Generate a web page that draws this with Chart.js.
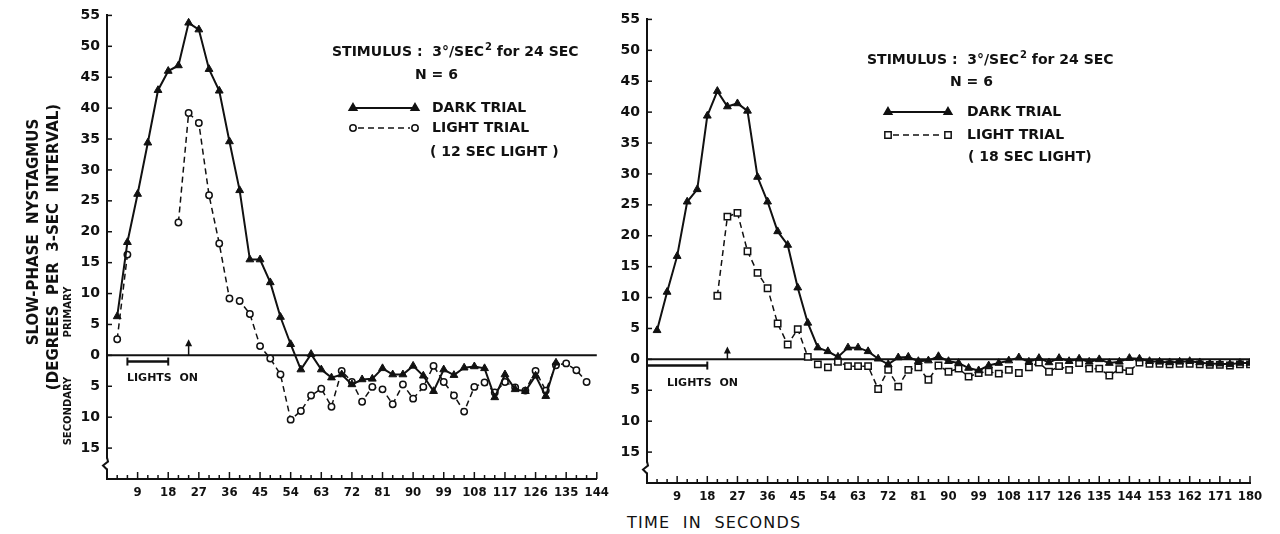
<!DOCTYPE html>
<html>
<head>
<meta charset="utf-8">
<script src="https://cdn.jsdelivr.net/npm/chart.js@4.4.1/dist/chart.umd.min.js"></script>
<style>
  body { margin: 0; background: #fff; width: 1280px; height: 534px; overflow: hidden; position: relative; }
  #left { position: absolute; left: 0; top: 0; }
  #right { position: absolute; left: 615px; top: 4px; }
  #xtitle { position: absolute; left: 627px; top: 513px; font: 16px "DejaVu Sans", sans-serif; letter-spacing: 1.2px; color: #111; white-space: pre; }
</style>
</head>
<body>
<canvas id="left" width="615" height="505"></canvas>
<canvas id="right" width="665" height="505"></canvas>
<div id="xtitle">TIME  IN  SECONDS</div>
<script>
/* ------------------------------- Data ------------------------------- */
// time (s) of each 3-sec interval
const leftTimes = [3, 6, 9, 12, 15, 18, 21, 24, 27, 30, 33, 36, 39, 42, 45, 48, 51, 54, 57, 60,
  63, 66, 69, 72, 75, 78, 81, 84, 87, 90, 93, 96, 99, 102, 105, 108, 111, 114, 117, 120,
  123, 126, 129, 132, 135, 138, 141];
const leftDark = [6.3, 18.3, 26.1, 34.4, 42.9, 46, 46.9, 53.8, 52.7, 46.3, 42.8, 34.6, 26.7, 15.5, 15.5, 11.8, 6.2, 1.8, -2.3, 0.2,
  -2.3, -3.6, -3.1, -4.7, -3.9, -3.8, -2.1, -3.1, -3.1, -1.7, -3.3, -5.8, -2.3, -3.2, -2.0, -1.8, -2.1, -6.8, -3.1, -5.5,
  -5.8, -3.3, -6.6, -1.2, null, null, null];
const leftLight = [2.6, 16.3, null, null, null, null, 21.5, 39.2, 37.6, 25.9, 18.1, 9.2, 8.8, 6.7, 1.5, -0.5, -3.1, -10.4, -9, -6.5,
  -5.4, -8.3, -2.5, -4.3, -7.5, -5.1, -5.5, -7.9, -4.7, -7, -5.1, -1.7, -4.3, -6.5, -9.1, -5.1, -4.4, -6, -4.3, -5.2,
  -5.7, -2.5, -5.7, -1.6, -1.3, -2.4, -4.3];

const rightTimes = [3, 6, 9, 12, 15, 18, 21, 24, 27, 30, 33, 36, 39, 42, 45, 48, 51, 54, 57, 60,
  63, 66, 69, 72, 75, 78, 81, 84, 87, 90, 93, 96, 99, 102, 105, 108, 111, 114, 117, 120,
  123, 126, 129, 132, 135, 138, 141, 144, 147, 150, 153, 156, 159, 162, 165, 168, 171, 174, 177, 180];
const rightDark = [4.7, 10.9, 16.7, 25.5, 27.5, 39.4, 43.4, 40.9, 41.4, 40.2, 29.5, 25.5, 20.7, 18.5, 11.6, 5.9, 1.9, 1.3, 0.4, 1.9,
  1.9, 1.3, 0.1, -0.8, 0.3, 0.4, -0.3, -0.2, 0.5, -0.3, -0.6, -1.4, -1.8, -1.0, -0.6, -0.2, 0.3, -0.4, 0.2, -0.5,
  0.2, -0.3, 0.1, -0.4, 0, -0.6, -0.4, 0.2, 0.1, -0.3, -0.4, -0.5, -0.4, -0.3, -0.5, -0.7, -0.7, -0.8, -0.6, -0.6];
const rightLight = [null, null, null, null, null, null, 10.3, 23.1, 23.7, 17.5, 14.0, 11.5, 5.8, 2.4, 4.9, 0.4, -0.8, -1.3, -0.4, -1.1,
  -1.1, -1.1, -4.8, -1.7, -4.4, -1.7, -1.3, -3.3, -1.0, -2.0, -1.5, -2.8, -2.2, -2.0, -2.3, -1.7, -2.2, -1.3, -0.5, -2.0,
  -1.1, -1.7, -0.6, -1.5, -1.5, -2.6, -1.6, -1.9, -0.5, -0.7, -0.7, -0.8, -0.7, -0.7, -0.8, -0.9, -0.9, -1.0, -0.8, -0.8];

const leftXLabels = [9, 18, 27, 36, 45, 54, 63, 72, 81, 90, 99, 108, 117, 126, 135, 144];
const rightXLabels = [9, 18, 27, 36, 45, 54, 63, 72, 81, 90, 99, 108, 117, 126, 135, 144, 153, 162, 171, 180];
const yTickValues = [-15, -10, -5, 0, 5, 10, 15, 20, 25, 30, 35, 40, 45, 50, 55];

/* ------------------------------ Styling ----------------------------- */
const ink = "#111";
const paper = "#fff";
const sans = '"DejaVu Sans", sans-serif';
const narrow = '"DejaVu Sans Condensed", "Liberation Sans Narrow", "DejaVu Sans", sans-serif';

const pairs = (times, values) => times.map((t, i) => ({ x: t, y: values[i] }));

const drawMarker = function (ctx, style, r, x, y, filled) {
  ctx.save();
  ctx.fillStyle = filled ? ink : paper;
  ctx.strokeStyle = ink;
  ctx.lineWidth = 1.5;
  Chart.helpers.drawPoint(ctx, { pointStyle: style, radius: r, rotation: 0, borderWidth: 1.5 }, x, y);
  ctx.restore();
};

const line = function (ctx, x1, y1, x2, y2) {
  ctx.beginPath();
  ctx.moveTo(x1, y1);
  ctx.lineTo(x2, y2);
  ctx.stroke();
};

/* --------------------- Zero line, ticks, notes, key --------------------- */
const figurePlugin = {
  id: "figure",
  beforeDatasetsDraw(chart) {
    const { ctx, chartArea: a, scales: { y } } = chart;
    ctx.save();
    ctx.strokeStyle = ink;
    ctx.lineWidth = 2;
    line(ctx, a.left, y.getPixelForValue(0), a.right, y.getPixelForValue(0));
    ctx.restore();
  },
  afterDraw(chart, args, o) {
    const { ctx, chartArea: a, scales: { x, y } } = chart;
    ctx.save();
    ctx.strokeStyle = ink;
    ctx.fillStyle = ink;

    // inward tick marks
    ctx.lineWidth = 1.5;
    yTickValues.forEach((v) => {
      const py = y.getPixelForValue(v);
      line(ctx, a.left, py, a.left + 5, py);
    });
    for (let t = 3; t <= x.max; t += 3) {
      const px = x.getPixelForValue(t);
      line(ctx, px, a.bottom, px, a.bottom - (t % 9 === 0 ? 7 : 4));
    }

    // axis break
    const by = y.getPixelForValue(-17.5);
    ctx.fillStyle = paper;
    ctx.fillRect(a.left - 3, by - 5, 6, 10);
    ctx.fillStyle = ink;
    ctx.lineWidth = 2;
    ctx.beginPath();
    ctx.moveTo(a.left, by - 6);
    ctx.lineTo(a.left + 1, by - 2);
    ctx.lineTo(a.left - 4, by + 2);
    ctx.lineTo(a.left, by + 6);
    ctx.stroke();

    // lights-on bar
    const ly = y.getPixelForValue(-1);
    const lx0 = x.getPixelForValue(o.lights[0]);
    const lx1 = x.getPixelForValue(o.lights[1]);
    ctx.lineWidth = 2.5;
    line(ctx, lx0, ly, lx1, ly);
    ctx.lineWidth = 2;
    line(ctx, lx0, ly - 4, lx0, ly + 4);
    line(ctx, lx1, ly - 4, lx1, ly + 4);
    ctx.font = "bold 11px " + sans;
    ctx.textBaseline = "middle";
    ctx.textAlign = "left";
    ctx.fillText("LIGHTS  ON", o.lightsText[0], o.lightsText[1]);

    // end of stimulus arrow
    const ax = x.getPixelForValue(o.arrow[0]);
    const a0 = y.getPixelForValue(0);
    const a1 = y.getPixelForValue(o.arrow[1]);
    ctx.lineWidth = 1.5;
    line(ctx, ax, a0, ax, a1 + 4);
    ctx.beginPath();
    ctx.moveTo(ax, a1);
    ctx.lineTo(ax - 3.5, a1 + 7);
    ctx.lineTo(ax + 3.5, a1 + 7);
    ctx.closePath();
    ctx.fill();

    // stimulus note
    let sx = o.stimulus[0];
    const sy = o.stimulus[1];
    ctx.font = "bold 14px " + sans;
    const p1 = "STIMULUS :  3°/SEC";
    ctx.fillText(p1, sx, sy);
    sx += ctx.measureText(p1).width + 1;
    ctx.font = "bold 10px " + sans;
    ctx.fillText("2", sx, sy - 5);
    sx += ctx.measureText("2").width;
    ctx.font = "bold 14px " + sans;
    ctx.fillText(" for 24 SEC", sx, sy);
    ctx.fillText("N = 6", o.nText[0], o.nText[1]);

    // key
    const k = o.key;
    ctx.lineWidth = 2;
    line(ctx, k.x1, k.y1, k.x2, k.y1);
    drawMarker(ctx, "triangle", 4.5, k.x1, k.y1, true);
    drawMarker(ctx, "triangle", 4.5, k.x2, k.y1, true);
    ctx.lineWidth = 1.5;
    ctx.setLineDash([6, 4]);
    line(ctx, k.x1 + 5, k.y2, k.x2 - 5, k.y2);
    ctx.setLineDash([]);
    drawMarker(ctx, k.lightStyle, k.lightStyle === "rect" ? 4.5 : 3.2, k.x1, k.y2, false);
    drawMarker(ctx, k.lightStyle, k.lightStyle === "rect" ? 4.5 : 3.2, k.x2, k.y2, false);
    ctx.fillStyle = ink;
    ctx.font = "bold 14px " + sans;
    ctx.fillText("DARK TRIAL", k.tx, k.y1);
    ctx.fillText("LIGHT TRIAL", k.tx, k.y2);
    ctx.fillText(k.note, k.noteX, k.noteY);

    // y-axis title
    if (o.yTitle) {
      ctx.textAlign = "center";
      const vtext = (txt, cx, cy, font) => {
        ctx.save();
        ctx.translate(cx, cy);
        ctx.rotate(-Math.PI / 2);
        ctx.font = font;
        ctx.fillText(txt, 0, 0);
        ctx.restore();
      };
      vtext("SLOW-PHASE  NYSTAGMUS", 34, 232, "bold 15px " + sans);
      vtext("(DEGREES  PER  3-SEC  INTERVAL)", 54, 247, "bold 15px " + sans);
      vtext("PRIMARY", 68, 312, "bold 10px " + sans);
      vtext("SECONDARY", 68, 411, "bold 10px " + sans);
    }
    ctx.restore();
  },
};

/* ------------------------------ Charts ------------------------------ */
const makeChart = function (id, times, dark, light, lightStyle, xMax, xLabels, yWidth, padRight, figure) {
  return new Chart(document.getElementById(id), {
    type: "line",
    data: {
      datasets: [
        {
          label: "DARK TRIAL",
          data: pairs(times, dark),
          borderColor: ink,
          borderWidth: 2,
          pointStyle: "triangle",
          pointRadius: 4.5,
          pointBackgroundColor: ink,
          pointBorderColor: ink,
          pointBorderWidth: 1,
          spanGaps: false,
        },
        {
          label: "LIGHT TRIAL",
          data: pairs(times, light),
          borderColor: ink,
          borderWidth: 1.5,
          borderDash: [6, 4],
          pointStyle: lightStyle,
          pointRadius: lightStyle === "rect" ? 4.5 : 3.2,
          pointBackgroundColor: paper,
          pointBorderColor: ink,
          pointBorderWidth: 1.5,
          spanGaps: false,
        },
      ],
    },
    options: {
      responsive: false,
      animation: false,
      devicePixelRatio: 1,
      layout: { padding: { top: 15, right: padRight, bottom: 0, left: 0 } },
      plugins: {
        legend: { display: false },
        tooltip: { enabled: false },
        figure: figure,
      },
      scales: {
        x: {
          type: "linear",
          min: 0,
          max: xMax,
          afterFit: (s) => { s.height = 26; },
          grid: { display: false, drawTicks: false },
          border: { display: true, color: ink, width: 2 },
          ticks: {
            stepSize: 9,
            autoSkip: false,
            maxRotation: 0,
            padding: 6,
            color: ink,
            font: { family: narrow, size: 13, weight: "bold" },
            callback: (v) => (xLabels.includes(v) ? String(v) : ""),
          },
        },
        y: {
          min: -20,
          max: 55,
          afterFit: (s) => { s.width = yWidth; },
          grid: { display: false, drawTicks: false },
          border: { display: true, color: ink, width: 2 },
          ticks: {
            stepSize: 5,
            padding: 7,
            color: ink,
            font: { family: sans, size: 14, weight: "bold" },
            callback: (v) => (yTickValues.includes(v) ? String(Math.abs(v)) : ""),
          },
        },
      },
    },
    plugins: [figurePlugin],
  });
};

makeChart("left", leftTimes, leftDark, leftLight, "circle", 144, leftXLabels, 107, 17, {
  lights: [6, 18],
  lightsText: [127, 378],
  arrow: [24, 2.6],
  stimulus: [332, 52],
  nText: [415, 75],
  key: { x1: 353, x2: 415, y1: 108, y2: 128, tx: 432, lightStyle: "circle", note: "( 12 SEC LIGHT )", noteX: 430, noteY: 152 },
  yTitle: true,
});

makeChart("right", rightTimes, rightDark, rightLight, "rect", 180, rightXLabels, 32, 30, {
  lights: [0, 18],
  lightsText: [52, 379],
  arrow: [24, 2.1],
  stimulus: [252, 56],
  nText: [335, 78],
  key: { x1: 273, x2: 333, y1: 108, y2: 131, tx: 352, lightStyle: "rect", note: "( 18 SEC LIGHT)", noteX: 353, noteY: 153 },
  yTitle: false,
});
</script>
</body>
</html>
